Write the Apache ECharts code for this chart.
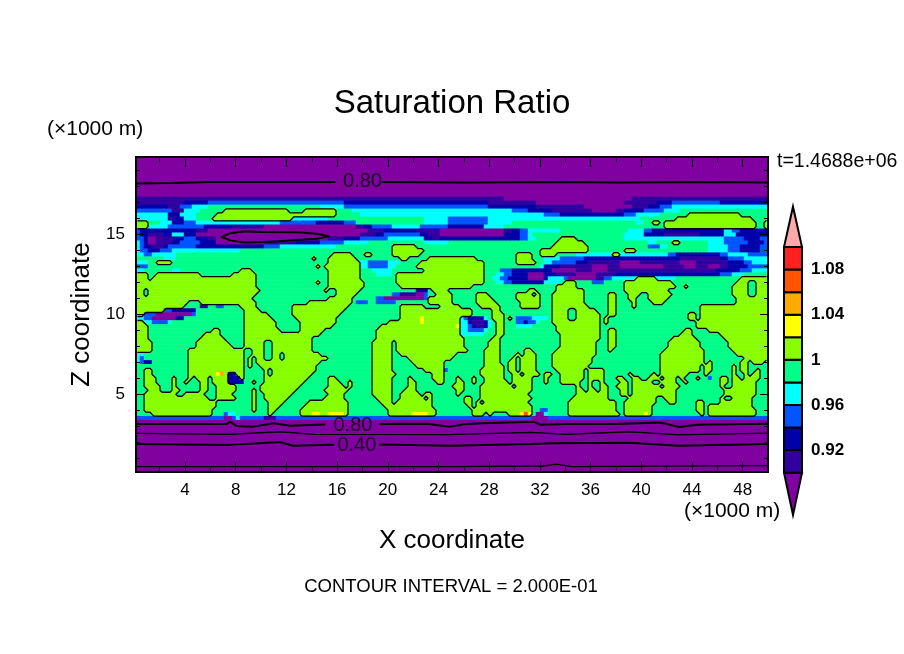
<!DOCTYPE html>
<html>
<head>
<meta charset="utf-8">
<style>html,body{margin:0;padding:0;background:#fff}#c{width:904px;height:654px}</style>
<script src="https://cdn.jsdelivr.net/npm/echarts@6/dist/echarts.min.js"></script>
</head>
<body>
<div id="c"></div>
<script>
// Field classes, one letter per colour band
const classLetters = "abcdefghij";
const classValues = [0.89, 0.91, 0.93, 0.95, 0.97, 0.99, 1.01, 1.03, 1.05, 1.07];
const levelEdges = [0.90, 0.92, 0.94, 0.96, 0.98, 1.00, 1.02, 1.04, 1.06, 1.08, 1.10];
const levelColors = ["#8000A0", "#3300A0", "#0000AA", "#0055FF", "#00FFFF", "#00FF88", "#88FF00", "#FFFF00", "#FFAA00", "#FF5500", "#FF2020", "#FFAAAA"];
const colorbarTicks = [0.92, 0.96, 1, 1.04, 1.08];
const xMajor = [4, 8, 12, 16, 20, 24, 28, 32, 36, 40, 44, 48];
const xMinor = [2, 6, 10, 14, 18, 22, 26, 30, 34, 38, 42, 46];
const zMajor = [5, 10, 15];
const zMinor = [1, 2, 3, 4, 6, 7, 8, 9, 11, 12, 13, 14, 16, 17, 18, 19];
const xRange = [0.13, 50];
const zRange = [0.125, 19.81];
const nCols = 158;
// Each row, top to bottom: letter + last column of that run
const fieldRows = [
"a158","a158","a158","a158","a158","a158","a158","a158","a158","a158",
"b92 a124 b158",
"b12 c18 d52 c88 b100 a122 b130 c134 d146 c158",
"c8 b11 d14 e18 f46 e52 d88 c100 b112 a124 b128 c131 d134 e158",
"d9 b12 e16 f22 g38 f42 g50 f54 e94 d98 c104 b114 a120 b122 c127 d132 e136 f158",
"e8 c11 e15 f20 g50 f56 e102 d106 c122 d125 e131 f138 g151 f158",
"e8 b10 c12 e15 f19 g39 e48 f72 e78 d88 e126 f135 g154 f158",
"g3 f6 e9 c12 d15 e36 d45 c52 d55 f72 e78 d88 e94 f125 e127 f129 g131 f132 g155 f157 g158",
"g3 e8 d17 c24 b32 a55 b57 c59 d64 e71 d78 c87 e92 f132 g155 f157 g158",
"d1 c15 b18 a58 b62 c70 b76 a92 b94 c96 d98 e106 f123 e127 d129 c147 e149 d151 c158",
"d1 c3 b7 c9 e12 c15 a56 b60 c62 d71 c73 b76 a92 c96 d98 e99 f122 e127 c132 b141 c147 e150 c158",
"d2 c3 b3 a5 b10 c12 d15 c18 b20 a48 b52 c56 d63 e72 c74 b76 c96 d98 e100 f106 g110 f122 e147 d152 c156 d158",
"e1 d2 c3 a5 b9 c11 d16 c20 a32 b40 c46 d52 e58 f72 e78 f105 g112 f128 e130 f134 g136 f143 e147 d153 c157 d158",
"e1 d2 c4 b7 c8 d15 c32 d36 e50 f64 g70 f104 g113 f128 d131 e133 f143 e148 d151 c156 d158",
"e1 d3 c6 d9 e26 f64 g72 f101 g113 f122 g125 f143 e148 d151 c156 d158",
"e2 d4 e10 f49 g54 f57 g59 f64 g71 f95 g99 f101 g105 f110 e119 g121 e133 d135 c146 d148 e153 d158",
"f7 e10 f44 g45 f48 g55 f66 g68 f73 g85 f95 g99 f102 e106 d112 c136 b146 c148 d152 e158",
"e3 f5 g9 f48 g56 e58 d63 e66 f71 g87 f95 g100 f102 e104 d110 c113 b121 a126 b136 a140 b148 c152 d154 e158",
"d3 f45 g46 f47 g56 e58 d63 e65 f70 g87 f101 e102 c106 b114 a118 b121 a132 b137 a140 b143 a146 b148 c153 d158",
"e2 f9 e11 f26 g29 f48 g56 f59 e64 f72 g87 f91 d94 c104 a110 b114 a118 b145 c151 d154 e158",
"g3 f5 g16 f24 g30 f48 g56 f60 e64 f65 g87 f90 e92 d94 c98 a102 c105 b110 a115 b120 c146 d149 e152 f158",
"g3 f4 g30 f48 g56 f65 g87 f89 e91 d93 c98 a102 c103 e107 d108 a115 b117 d119 e125 g130 e135 f151 g158",
"g30 f45 g46 f48 g57 f65 g87 f90 e92 d94 c102 e106 f107 g110 f114 d117 f122 g134 f150 g153 f155 g158",
"g30 f48 g57 f66 g84 f105 g110 f122 g135 f137 g138 f149 g153 f155 g158",
"g2 f3 g31 f47 g48 f50 g56 f70 c73 f74 g78 f98 g100 f105 g112 f122 g133 f149 g153 f155 g158",
"g2 f3 g30 f50 g55 f64 d66 b70 a72 d73 f75 g79 f85 g88 f95 g99 f100 g101 f104 g112 f118 g120 f123 g126 f128 g134 f149 g153 f155 g158",
"g29 f48 g54 f60 d62 a72 d73 g79 f85 g89 f95 g101 f104 g112 f118 g120 f123 g125 f128 g133 f150 g158",
"g13 f16 g30 f43 g54 f55 d58 f60 d65 f73 g79 f85 g90 f96 g101 f104 g112 f118 g120 f124 g125 f129 g132 f150 g158",
"g12 f16 b18 f20 d22 f26 g30 f39 g53 f66 g72 f76 g81 f86 g91 f96 g101 f104 g113 f118 g120 f124 g125 f141 g158",
"g7 d9 c15 f27 g31 f39 g52 f66 g84 f89 g91 f104 g108 f110 g115 f118 g120 f141 g158",
"g2 d5 a14 d15 f27 g33 f39 g51 f66 g84 f89 g92 f104 g108 f110 g116 f118 g120 f138 g140 f141 g158",
"e2 d4 a10 c12 f27 g34 f40 g50 f66 g71 h72 g81 e82 d83 c87 e88 f89 g92 f93 g94 f95 d99 e103 f104 g108 f110 g116 f117 g118 f138 g140 f141 g158",
"g2 e4 d8 e9 f27 g35 f41 g50 f63 g71 h72 g81 e83 c84 b87 c88 e89 f90 g92 f95 d97 c98 d100 e101 f104 g116 f117 g118 f140 g158",
"g3 f27 g35 f41 g49 f61 g80 h81 e83 d84 c85 b87 c88 e89 f90 g92 f95 e99 f105 g116 f140 g158",
"g3 f19 g21 f27 g36 f41 g47 f60 g81 e83 d87 e88 f90 g92 f105 g116 f118 g120 f137 g139 f143 g158",
"g3 f17 g21 f27 g46 f60 g81 e87 f90 g92 f106 g116 f118 g120 f136 g139 f146 g158",
"g3 f16 g22 f27 g44 f60 g82 f89 g91 f106 g116 f118 g120 f134 g140 f147 g158",
"g4 f15 g23 f27 g32 f34 g44 f59 g64 f65 g82 f88 g91 f106 g115 f118 g120 f133 g141 f148 g158",
"g4 f15 g24 f27 g32 f34 g44 f59 g64 f65 g82 f88 g91 f106 g115 f118 g120 f133 g141 f148 g158",
"g4 f13 g27 f29 g32 f34 g44 f59 g64 f65 g83 f87 g91 f97 g99 f105 g115 f118 g119 f132 g142 f149 g158",
"e2 f13 g27 f29 g32 f34 g36 f37 g46 f59 g64 f66 g80 f87 g91 f95 g96 f97 g100 f104 g115 f131 g142 f150 g158",
"e1 d2 f13 g27 f28 g29 f30 g32 f34 g36 f37 g48 f59 g64 f68 g79 f87 g91 f94 g95 f96 g100 f104 g114 f131 g142 f152 g158",
"e1 d2 c4 f13 g27 f28 g29 f30 g46 f59 g64 f69 g77 f87 g91 f93 g95 f96 g100 f104 g114 f131 g142 f143 g144 f151 g153 f154 g157 f158",
"f13 g27 f28 g29 f31 g45 f59 g64 f70 g77 f87 g92 f93 g95 f96 g100 f104 g113 f131 g141 f142 g144 f149 g150 f151 g153 f158",
"f2 g4 f13 g27 f32 g33 f34 g45 f59 g64 f72 g77 d78 f86 g92 f93 g95 f96 g100 f105 g112 f113 g117 f131 g141 f142 g144 f149 g150 f151 g153 f155 g156 f158",
"f2 g4 f13 g20 h21 i22 g23 c25 g27 f32 g33 f34 g44 f59 g65 f74 g77 f86 g92 f94 g96 f97 g101 f102 g104 f106 g112 f113 g117 f123 g124 f129 g130 f131 g138 f142 g143 f149 g150 f152 g153 f154 g156 f158",
"f2 g5 f9 g10 f13 g14 f15 g18 f19 g23 c26 g27 f32 g43 f48 g50 f59 g64 f68 g69 f74 g77 f80 g81 f84 g85 f87 g92 f94 g99 f102 g103 f106 g112 f113 g117 f120 g122 f124 g126 f128 g131 f132 g135 f136 g137 f140 g141 f143 d144 f146 g148 f149 g151 f152 g156 f158",
"f2 g5 f9 g10 f12 g13 f16 g18 f19 g23 c27 f29 g30 f32 g42 f48 g51 f53 g54 f59 g64 f68 g70 f75 g77 f80 g82 f84 g85 f87 g93 f94 g99 f102 g103 f106 g111 f113 g114 f116 g117 f121 g123 f124 g129 f131 g135 f137 g138 f146 g148 f149 g155 f158",
"f2 g6 f9 g10 f16 g18 f20 g25 f31 g41 f48 g52 f53 g54 f59 g64 f68 g70 f79 g82 f86 g94 f95 g99 f110 g111 f113 g114 f116 g118 f120 g123 f124 g131 f132 g136 f146 g147 f149 g155 f158",
"f3 g6 f9 g11 f16 g18 f20 g25 f29 g30 f31 g40 f47 g53 f59 g64 f67 g70 f80 g82 f86 g99 f110 g112 f113 g115 f116 g118 f121 g123 f124 g135 f147 g155 f158",
"f2 g10 f12 g17 f20 g24 f29 g30 f32 g39 f48 g52 f59 g64 f66 g71 f72 g74 f80 g81 f86 g98 f110 g118 f121 g123 f124 g135 f147 g155 f158",
"f2 g18 f20 g25 f29 g30 f32 g38 f47 g52 f60 g64 f66 g72 f73 g74 f82 g84 f86 g99 f109 g118 f123 g130 f132 g135 f146 g147 f149 g154 f158",
"f2 g20 f29 g30 f33 g37 f43 g53 f61 g64 f65 g74 f82 g84 f85 g86 f87 g98 f108 g120 f122 g130 f133 g135 f140 g142 f146 g154 f158",
"f2 g20 f29 g30 f33 g36 f42 g53 f62 g74 f83 g84 f85 g99 f108 g120 f122 g129 f140 g142 f143 g154 f158",
"f2 g19 f29 g30 f33 g35 f41 g53 f63 g75 f84 g87 g99 f101 d103 f108 g120 f122 g129 f140 g142 f143 g155 f158",
"f4 g19 f22 d23 e25 f33 g34 f41 g44 h46 g48 h52 g53 f63 g69 h73 g75 f84 g87 f88 g89 f93 g96 h97 j98 h99 f100 a102 e103 f108 g121 f122 g127 h128 g129 f141 g142 f143 g155 f158",
"d22 a24 d25 e26 d32 b35 d99 a103 d158",
"a158","a158","a158","a158","a158","a158","a158","a158","a158","a158","a158","a158","a158"
];
// Other contours, read as [x (km), z (km)]; null marks a break for a text label
const contour08Top = [[0.13,18.15],[3,18.18],[6,18.24],[15.8,18.25],null,[19.6,18.25],[26,18.22],[34,18.25],[38,18.22],[46,18.25],[50,18.22]];
const contour08Lens = [[6.9,14.8],[7.55,15.05],[8.7,15.17],[10,15.12],[12.8,15.1],[14.4,15.02],[15.4,14.85],[14.4,14.7],[12.8,14.63],[10.5,14.5],[8.7,14.46],[7.55,14.6],[6.9,14.8]];
const contour08Low = [[0.13,3.12],[7.3,3.12],[7.55,3.27],[8.07,3.0],[9.4,2.96],[11,3.17],[12.3,3.02],[15,3.1],null,[19.4,3.12],[23.06,3.14],[24.9,2.96],[26.2,3.12],[27.5,3.17],[31.5,3.27],[32,3.08],[34.1,3.12],[38,3.12],[41.5,3.22],[43,2.94],[44.4,3.08],[49.9,3.14]];
const contour06 = [[0.13,2.54],[7.5,2.48],[11.5,2.64],[14.2,2.48],[24.9,2.46],[31.3,2.6],[34.1,2.48],[39,2.64],[43,2.44],[50,2.56]];
const contour04 = [[0.13,1.875],[7.5,1.82],[11.5,2.0],[12.5,1.77],[15.7,1.83],null,[19.4,1.85],[24.9,1.77],[31.3,1.87],[32.8,1.92],[39,1.96],[43,1.77],[50,1.87]];
const contour02 = [[0.13,0.46],[24.9,0.46],[32.3,0.5],[33.3,0.62],[34.5,0.46],[50,0.52]];
const contourLabels = [[18,18.25,"0.80"],[17.25,3.06,"0.80"],[17.56,1.81,"0.40"]];

const cls = fieldRows.map(function (row) {
  const cells = [];
  row.split(" ").forEach(function (tok) {
    const k = classLetters.indexOf(tok[0]);
    const end = +tok.slice(1);
    while (cells.length < end) cells.push(k);
  });
  return cells;
});
const nRows = cls.length;
const dx = (xRange[1] - xRange[0]) / nCols, dz = (zRange[1] - zRange[0]) / nRows;
const heat = [];
cls.forEach(function (cells, r) { cells.forEach(function (k, i) { heat.push([i, r, classValues[k]]); }); });
const cx = function (i) { return xRange[0] + (i + 0.5) * dx; };
const cz = function (r) { return zRange[1] - (r + 0.5) * dz; };
// 1.00 contour, marching squares over the field classes
const contour10 = [];
const limeClass = classLetters.indexOf("g");
function inside(r, i) { return cls[r][i] >= limeClass; }
for (let r = 0; r < nRows - 1; r++) {
  for (let i = 0; i < nCols - 1; i++) {
    const c = (inside(r, i) ? 8 : 0) | (inside(r, i + 1) ? 4 : 0) | (inside(r + 1, i + 1) ? 2 : 0) | (inside(r + 1, i) ? 1 : 0);
    if (c === 0 || c === 15) continue;
    const tx = cx(i + 0.5), lx = cx(i), rx = cx(i + 1), mz = cz(r + 0.5);
    const top = [tx, cz(r)], bot = [tx, cz(r + 1)], lef = [lx, mz], rig = [rx, mz];
    const segs = {1:[[lef,bot]],2:[[bot,rig]],3:[[lef,rig]],4:[[top,rig]],5:[[lef,top],[bot,rig]],6:[[top,bot]],7:[[lef,top]],8:[[lef,top]],9:[[top,bot]],10:[[top,rig],[lef,bot]],11:[[top,rig]],12:[[lef,rig]],13:[[bot,rig]],14:[[lef,bot]]}[c];
    segs.forEach(function (s) { contour10.push(s[0], s[1], [NaN, NaN]); });
  }
}
function gapped(a) { return a.map(function (p) { return p || [NaN, NaN]; }); }
const FONT = '"Liberation Sans"';
const GL = { left: 136, top: 157, width: 632, height: 315 };
function contourSeries(d, w) {
  return { type: "line", xAxisIndex: 1, yAxisIndex: 1, data: d, showSymbol: false, symbol: "none", silent: true, animation: false, z: 6, connectNulls: false,
    lineStyle: { color: "#000", width: w, cap: "round" } };
}
function frameAxis(extra, range) {
  return Object.assign({ type: "value", min: range[0], max: range[1], splitLine: { show: false }, axisLine: { show: true, onZero: false, lineStyle: { color: "#000", width: 2 } }, axisLabel: { show: false }, z: 5 }, extra);
}
const barEdges = levelEdges;
const barTop = 1.1357, barBottom = 0.8625;
const barData = [[barBottom, barEdges[0], 0]];
for (let i = 0; i < barEdges.length - 1; i++) barData.push([barEdges[i], barEdges[i + 1], i + 1]);
barData.push([barEdges[barEdges.length - 1], barTop, levelColors.length - 1]);

const pieces = levelColors.map(function (col, i) {
  if (i === 0) return { lt: levelEdges[0], color: col };
  if (i === levelColors.length - 1) return { gte: levelEdges[i - 1], color: col };
  return { gte: levelEdges[i - 1], lt: levelEdges[i], color: col };
});
function txt(x, y, s, size, align) {
  return { type: "text", x: x, y: y, z: 20, style: { text: s, fill: "#000", font: size + "px " + FONT, textAlign: align || "center", textVerticalAlign: "middle" } };
}
const chart = echarts.init(document.getElementById("c"), null, { renderer: "canvas" });
chart.setOption({
  animation: false,
  backgroundColor: "#fff",
  grid: [GL, GL, GL, { left: 784, top: 206.7, width: 18, height: 308.3 }],
  visualMap: { show: false, type: "piecewise", seriesIndex: 0, dimension: 2, pieces: pieces },
  xAxis: [
    { gridIndex: 0, type: "category", show: false, data: cls[0].map(function (_, i) { return i; }) },
    frameAxis({ gridIndex: 1, position: "bottom", name: "X coordinate", nameLocation: "middle", nameGap: 56, nameTextStyle: { color: "#000", fontFamily: FONT, fontSize: 26 },
      axisTick: { show: true, inside: true, length: 10, customValues: xMajor, lineStyle: { color: "#000", width: 1 } },
      axisLabel: { show: true, customValues: xMajor, color: "#000", fontFamily: FONT, fontSize: 17, margin: 10 } }, xRange),
    frameAxis({ gridIndex: 1, position: "top", axisTick: { show: true, inside: true, length: 10, customValues: xMajor, lineStyle: { color: "#000", width: 1 } } }, xRange),
    frameAxis({ gridIndex: 2, position: "bottom", axisTick: { show: true, inside: true, length: 5, customValues: xMinor, lineStyle: { color: "#000", width: 1 } } }, xRange),
    frameAxis({ gridIndex: 2, position: "top", axisTick: { show: true, inside: true, length: 5, customValues: xMinor, lineStyle: { color: "#000", width: 1 } } }, xRange),
    { gridIndex: 3, type: "value", show: false, min: 0, max: 1 }
  ],
  yAxis: [
    { gridIndex: 0, type: "category", show: false, inverse: true, data: cls.map(function (_, r) { return r; }) },
    frameAxis({ gridIndex: 1, position: "left", name: "Z coordinate", nameLocation: "middle", nameRotate: 90, nameGap: 41, nameTextStyle: { color: "#000", fontFamily: FONT, fontSize: 26 },
      axisTick: { show: true, inside: true, length: 8, customValues: zMajor, lineStyle: { color: "#000", width: 1 } },
      axisLabel: { show: true, customValues: zMajor, color: "#000", fontFamily: FONT, fontSize: 17, margin: 11 } }, zRange),
    frameAxis({ gridIndex: 1, position: "right", axisTick: { show: true, inside: true, length: 8, customValues: zMajor, lineStyle: { color: "#000", width: 1 } } }, zRange),
    frameAxis({ gridIndex: 2, position: "left", axisTick: { show: true, inside: true, length: 4, customValues: zMinor, lineStyle: { color: "#000", width: 1 } } }, zRange),
    frameAxis({ gridIndex: 2, position: "right", axisTick: { show: true, inside: true, length: 4, customValues: zMinor, lineStyle: { color: "#000", width: 1 } } }, zRange),
    { gridIndex: 3, type: "value", position: "right", min: barBottom, max: barTop, splitLine: { show: false }, axisLine: { show: false }, axisTick: { show: false },
      axisLabel: { show: true, customValues: colorbarTicks, margin: 9, color: "#000", fontFamily: FONT, fontSize: 17, fontWeight: "bold", formatter: function (v) { return String(Number(Number(v).toFixed(2))); } } }
  ],
  series: [
    { type: "heatmap", xAxisIndex: 0, yAxisIndex: 0, data: heat, progressive: 0, silent: true, z: 1, itemStyle: { borderWidth: 0 } },
    contourSeries(contour10, 1.3),
    contourSeries(gapped(contour08Top), 2),
    contourSeries(contour08Lens, 2),
    contourSeries(gapped(contour08Low), 2),
    contourSeries(contour06, 1.3),
    contourSeries(gapped(contour04), 2),
    contourSeries(contour02, 1.3),
    { type: "scatter", xAxisIndex: 1, yAxisIndex: 1, symbolSize: 0, silent: true, z: 7, data: contourLabels,
      label: { show: true, position: "inside", color: "#000", fontFamily: FONT, fontSize: 20, formatter: function (p) { return p.data[2]; } } },
    { type: "custom", xAxisIndex: 5, yAxisIndex: 5, coordinateSystem: "cartesian2d", silent: true, z: 3, data: barData, clip: false,
      encode: { x: -1, y: [0, 1] },
      renderItem: function (params, api) {
        const lo = api.value(0), hi = api.value(1), k = api.value(2);
        const style = { fill: levelColors[k], stroke: "#000", lineWidth: 2, lineJoin: "miter" };
        let pts;
        if (k === 0) pts = [[0, hi], [1, hi], [0.5, lo]];
        else if (k === levelColors.length - 1) pts = [[0, lo], [1, lo], [0.5, hi]];
        else pts = [[0, lo], [1, lo], [1, hi], [0, hi]];
        return { type: "polygon", shape: { points: pts.map(function (p) { return api.coord(p); }) }, style: style };
      } }
  ],
  graphic: [
    txt(452, 104, "Saturation Ratio", 33),
    txt(47, 129, "(×1000 m)", 21, "left"),
    txt(684, 511, "(×1000 m)", 21, "left"),
    txt(777, 162, "t=1.4688e+06", 19.5, "left"),
    txt(451, 587, "CONTOUR INTERVAL = 2.000E-01", 18.5)
  ]
});
</script>
</body>
</html>
